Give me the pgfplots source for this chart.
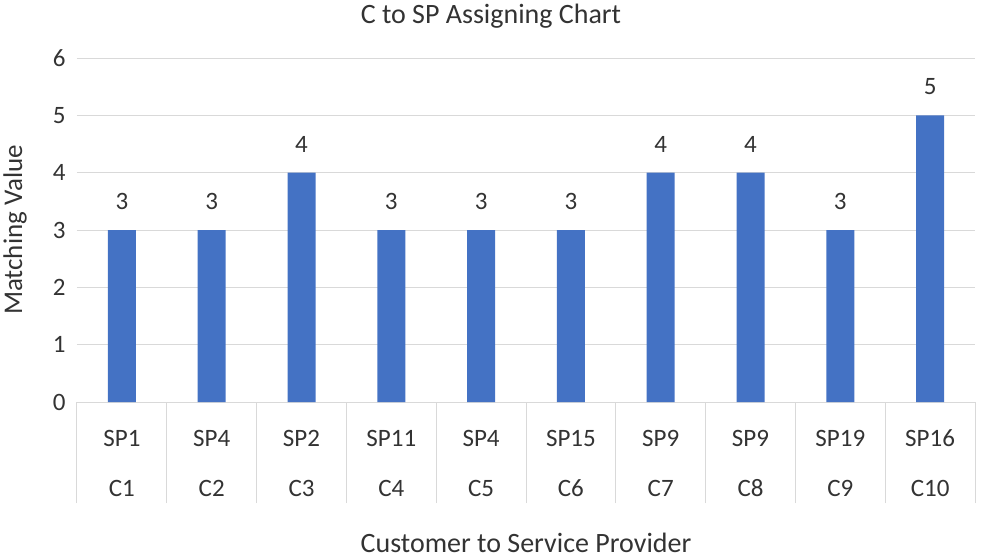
\documentclass[border=0pt]{standalone}
\usepackage{pgfplots}
\pgfplotsset{compat=1.18}
\usepackage{fontspec}
\setmainfont{Carlito}

\definecolor{barblue}{HTML}{4472C4}
\definecolor{gridgray}{HTML}{D9D9D9}
\definecolor{txt}{HTML}{333333}

\begin{document}
\begin{tikzpicture}
\path[use as bounding box] (-77pt,-156pt) rectangle (904pt,402pt);
\begin{axis}[
    at={(0pt,0pt)}, anchor=south west,
    scale only axis,
    width=898pt, height=344pt,
    ybar, bar width=28pt,
    xmin=-0.5, xmax=9.5,
    ymin=0, ymax=6,
    /pgf/number format/assume math mode=true,
    ytick={0,1,2,3,4,5,6},
    xtick={0,1,2,3,4,5,6,7,8,9},
    xticklabels={{SP1\\C1},{SP4\\C2},{SP2\\C3},{SP11\\C4},{SP4\\C5},
                 {SP15\\C6},{SP9\\C7},{SP9\\C8},{SP19\\C9},{SP16\\C10}},
    xticklabel style={anchor=center, align=center, yshift=-57pt,
        font=\fontsize{25}{50}\selectfont, text=txt},
    yticklabel style={font=\fontsize{25}{28}\selectfont, text=txt, xshift=-8pt},
    xtick style={draw=none},
    ytick style={draw=none},
    extra x ticks={-0.5,0.5,1.5,2.5,3.5,4.5,5.5,6.5,7.5,8.5,9.5},
    extra x tick labels={},
    extra x tick style={xtick style={draw=gridgray, line width=1pt},
        major tick length=101pt, tick align=outside, tick pos=lower},
    axis line style={draw=none},
    ymajorgrids=true,
    grid style={draw=gridgray, line width=1pt},
    title={C to SP Assigning Chart},
    title style={at={(axis description cs:0.461,1.105)}, anchor=center,
        font=\fontsize{28}{32}\selectfont, text=txt},
    xlabel={Customer to Service Provider},
    xlabel style={at={(axis description cs:0.5,-0.41)}, anchor=center,
        font=\fontsize{28}{32}\selectfont, text=txt},
    ylabel={Matching Value},
    ylabel style={at={(axis description cs:-0.069,0.5)}, anchor=center,
        rotate=0, font=\fontsize{27}{30}\selectfont, text=txt},
    nodes near coords,
    every node near coord/.append style={font=\fontsize{25}{28}\selectfont,
        text=txt, anchor=south, inner sep=0pt, yshift=20pt},
]
\addplot[fill=barblue, draw=none] coordinates {
    (0,3) (1,3) (2,4) (3,3) (4,3) (5,3) (6,4) (7,4) (8,3) (9,5)
};
\end{axis}
\end{tikzpicture}
\end{document}
